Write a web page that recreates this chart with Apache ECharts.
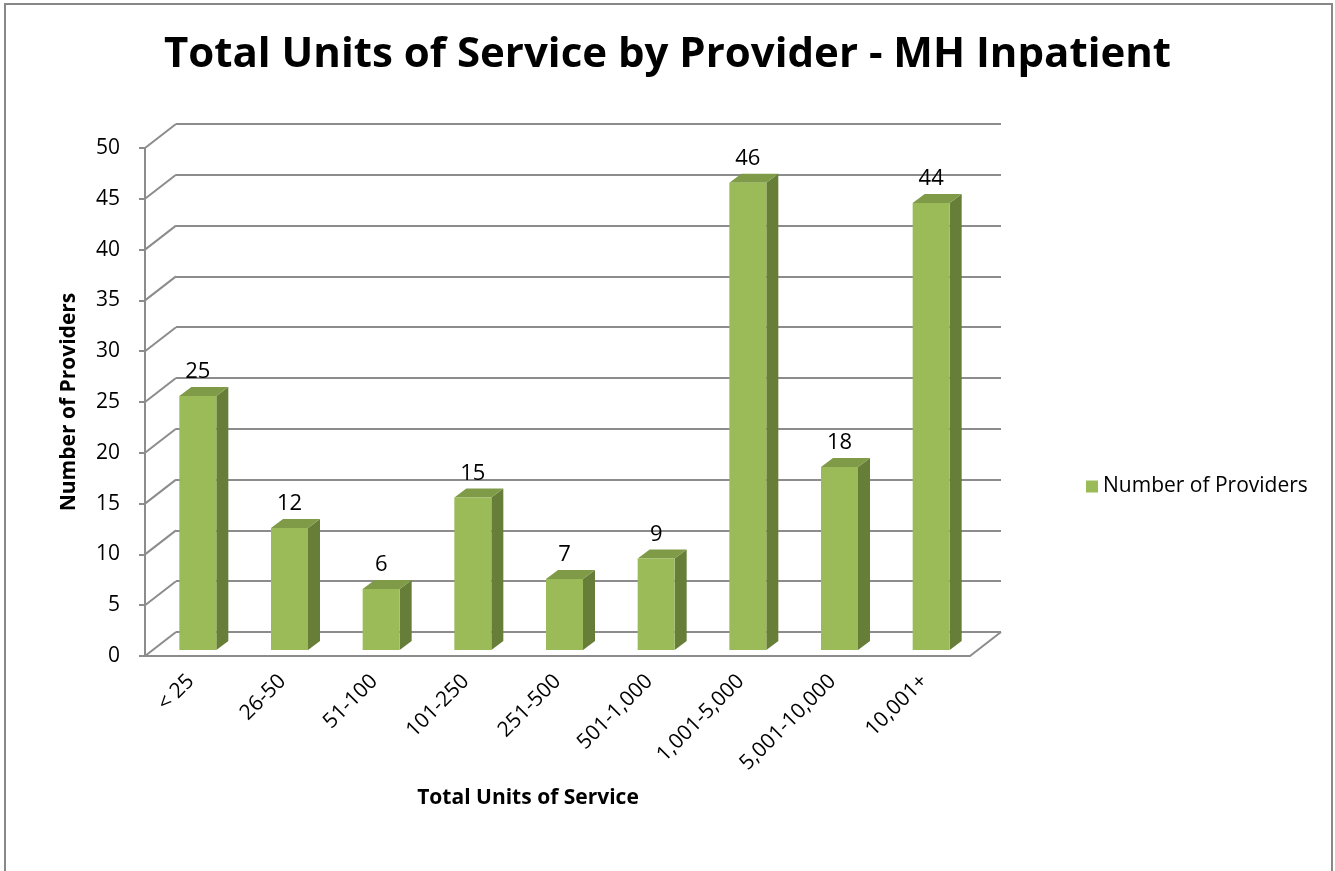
<!DOCTYPE html>
<html>
<head>
<meta charset="utf-8">
<script src="https://cdn.jsdelivr.net/npm/echarts@6/dist/echarts.min.js"></script>
<style>
  html, body { margin: 0; padding: 0; background: #fff; }
  #main { width: 1335px; height: 871px; }
</style>
</head>
<body>
<div id="main"></div>
<script>
const chart = echarts.init(document.getElementById("main"));

// ********
// * Data *
// ********
const categories = ["< 25", "26-50", "51-100", "101-250", "251-500", "501-1,000", "1,001-5,000", "5,001-10,000", "10,001+"];
const providerCounts = [25, 12, 6, 15, 7, 9, 46, 18, 44];
const yTicks = [0, 5, 10, 15, 20, 25, 30, 35, 40, 45, 50];

const seriesName = "Number of Providers";
const fontFamily = "'Open Sans', 'Noto Sans', sans-serif";
const gridColor = "#8c8c8c";

// 3D look: depth of the back wall relative to the front plane
const depth = [31, -24];
// bar placement inside the depth and its own thickness
const barShift = [7, -6];
const barDepth = [12, -9];
const barWidth = 37;

const colors = {
  front: "#9bbb59",
  side: "#677e39",
  top: "#7f9b48",
};

// *************
// * Renderers *
// *************

// Diagonal lines joining front axis ticks to the back wall gridlines
function renderFrame(params, api) {
  const cs = params.coordSys;
  const v = api.value(0);
  const p = api.coord([0, v]);
  const y = p[1];
  const lines = [];
  const style = { stroke: gridColor, lineWidth: 2 };
  lines.push({
    type: "line",
    shape: { x1: cs.x, y1: y, x2: cs.x + depth[0], y2: y + depth[1] },
    style: style,
  });
  if (v === 0) {
    // floor right edge
    lines.push({
      type: "line",
      shape: { x1: cs.x + cs.width, y1: y, x2: cs.x + cs.width + depth[0], y2: y + depth[1] },
      style: style,
    });
  }
  return { type: "group", children: lines };
}

function renderBar(params, api) {
  const i = api.value(0);
  const v = api.value(1);
  const top = api.coord([i, v]);
  const base = api.coord([i, 0]);
  const x0 = top[0] + barShift[0] - barWidth / 2;
  const x1 = x0 + barWidth;
  const yt = top[1] + barShift[1];
  const yb = base[1] + barShift[1];
  const dx = barDepth[0];
  const dy = barDepth[1];
  return {
    type: "group",
    children: [
      {
        type: "polygon",
        shape: { points: [[x1, yt], [x1 + dx, yt + dy], [x1 + dx, yb + dy], [x1, yb]] },
        style: { fill: colors.side },
      },
      {
        type: "polygon",
        shape: { points: [[x0, yt], [x0 + dx, yt + dy], [x1 + dx, yt + dy], [x1, yt]] },
        style: { fill: colors.top },
      },
      {
        type: "rect",
        shape: { x: x0, y: yt, width: barWidth, height: yb - yt },
        style: { fill: colors.front },
      },
      {
        type: "text",
        style: {
          text: String(v),
          x: (x0 + x1) / 2,
          y: yt + dy - 4,
          align: "center",
          verticalAlign: "bottom",
          fontSize: 22,
          fontFamily: fontFamily,
          fill: "#000",
        },
      },
    ],
  };
}

// **********
// * Option *
// **********
const option = {
  animation: false,
  backgroundColor: "#fff",
  title: {
    text: "Total Units of Service by Provider - MH Inpatient",
    left: "center",
    top: 29,
    textStyle: { fontSize: 42, fontWeight: "bold", fontFamily: fontFamily, color: "#000" },
  },
  legend: {
    data: [seriesName],
    left: 1081,
    top: 471,
    icon: "rect",
    itemWidth: 12,
    itemHeight: 12,
    textStyle: { fontSize: 21, fontFamily: fontFamily, color: "#000" },
  },
  grid: [
    // front plane
    { left: 145, right: 365, top: 148, bottom: 215 },
    // back wall
    { left: 145 + depth[0], right: 365 - depth[0], top: 148 + depth[1], bottom: 215 - depth[1] },
  ],
  xAxis: [
    {
      type: "category",
      gridIndex: 0,
      data: categories,
      axisLine: { lineStyle: { color: gridColor, width: 2 } },
      axisTick: { length: 8, lineStyle: { color: gridColor, width: 2 } },
      axisLabel: {
        rotate: 45,
        margin: 22,
        interval: 0,
        fontSize: 21,
        fontFamily: fontFamily,
        color: "#000",
      },
    },
    { type: "category", gridIndex: 1, data: categories, show: false },
  ],
  yAxis: [
    {
      type: "value",
      gridIndex: 0,
      min: 0,
      max: 50,
      interval: 5,
      name: "Number of Providers",
      nameLocation: "middle",
      nameGap: 65,
      nameTextStyle: { fontSize: 21, fontWeight: "bold", fontFamily: fontFamily, color: "#000" },
      axisLine: { show: true, lineStyle: { color: gridColor, width: 2 } },
      axisTick: { show: true, length: 6, lineStyle: { color: gridColor, width: 2 } },
      axisLabel: { margin: 25, fontSize: 21, fontFamily: fontFamily, color: "#000" },
      splitLine: { show: false },
    },
    {
      type: "value",
      gridIndex: 1,
      min: 0,
      max: 50,
      interval: 5,
      axisLine: { show: false },
      axisTick: { show: false },
      axisLabel: { show: false },
      splitLine: { show: true, lineStyle: { color: gridColor, width: 2 } },
    },
  ],
  graphic: [
    {
      type: "text",
      x: 528,
      y: 798,
      style: {
        text: "Total Units of Service",
        align: "center",
        verticalAlign: "middle",
        fontSize: 21,
        fontWeight: "bold",
        fontFamily: fontFamily,
        fill: "#000",
      },
    },
    {
      type: "rect",
      shape: { x: 5, y: 4, width: 1327, height: 900 },
      style: { fill: "none", stroke: "#888", lineWidth: 2 },
      silent: true,
    },
  ],
  series: [
    {
      name: "frame",
      type: "custom",
      xAxisIndex: 0,
      yAxisIndex: 0,
      renderItem: renderFrame,
      data: yTicks.map((v) => [v]),
      encode: { y: 0 },
      silent: true,
      z: 1,
    },
    {
      name: seriesName,
      type: "custom",
      xAxisIndex: 0,
      yAxisIndex: 0,
      renderItem: renderBar,
      itemStyle: { color: colors.front },
      data: providerCounts.map((v, i) => [i, v]),
      encode: { x: 0, y: 1 },
      z: 5,
    },
  ],
};

chart.setOption(option);
</script>
</body>
</html>
